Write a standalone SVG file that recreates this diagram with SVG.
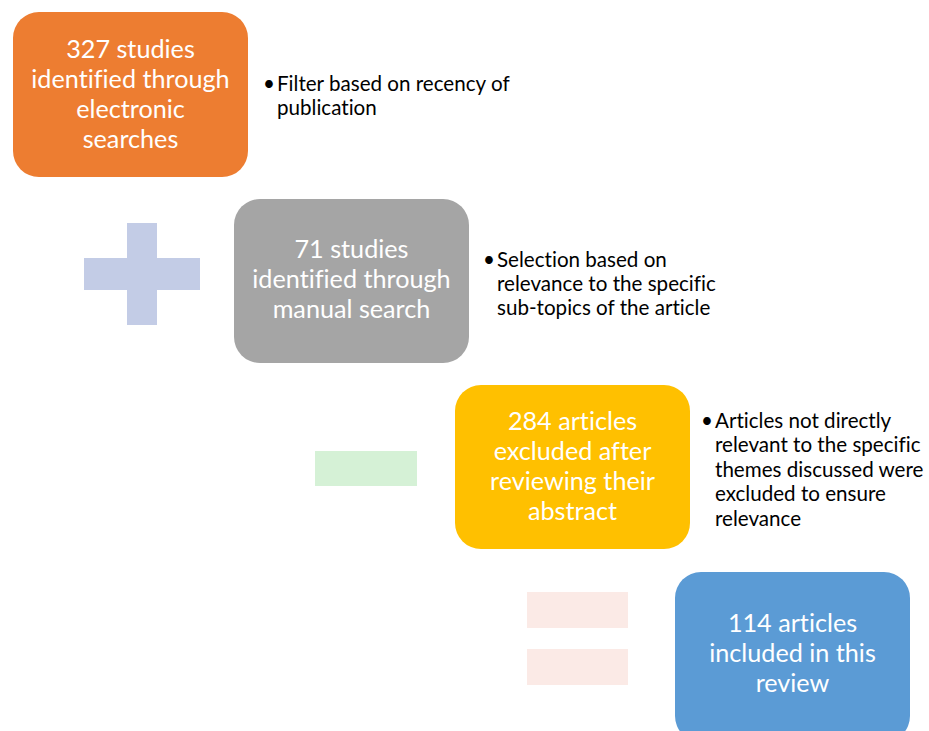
<svg xmlns="http://www.w3.org/2000/svg" width="929" height="731" viewBox="0 0 929 731">
<style>
.box{stroke:none}
.bt{font-family:Lato,"Open Sans",sans-serif;font-size:25.2px;fill:#ffffff;text-anchor:middle;font-variant-ligatures:none}
.nt{font-family:Lato,"Open Sans",sans-serif;font-size:20.6px;fill:#000000;font-variant-ligatures:none}
</style>
<rect width="929" height="731" fill="#ffffff"/>
<g id="plus"><rect x="127" y="223" width="30" height="102" fill="#C3CCE6"/><rect x="84" y="258" width="116" height="32" fill="#C3CCE6"/></g>
<g id="minus"><rect x="315" y="451" width="102" height="35" fill="#D5F1D6"/></g>
<g id="equals"><rect x="527" y="592" width="101" height="36" fill="#FBEAE6"/><rect x="527" y="649" width="101" height="36" fill="#FBEAE6"/></g>
<g id="connectors"></g>
<g id="n1">
<rect class="box" x="13" y="12" width="235" height="165" rx="26" fill="#ED7D31"/>
<text class="bt" x="130.5" y="58">327 studies</text>
<text class="bt" x="130.5" y="88">identified through</text>
<text class="bt" x="130.5" y="118">electronic</text>
<text class="bt" x="130.5" y="148">searches</text>
</g>
<g id="t1">
<text class="nt" x="263" y="91">•</text>
<text class="nt" x="277" y="91">Filter based on recency of</text>
<text class="nt" x="277" y="115">publication</text>
</g>
<g id="n2">
<rect class="box" x="234" y="199" width="235" height="164" rx="26" fill="#A5A5A5"/>
<text class="bt" x="351.5" y="258">71 studies</text>
<text class="bt" x="351.5" y="288">identified through</text>
<text class="bt" x="351.5" y="318">manual search</text>
</g>
<g id="t2">
<text class="nt" x="483" y="267">•</text>
<text class="nt" x="497" y="267">Selection based on</text>
<text class="nt" x="497" y="291">relevance to the specific</text>
<text class="nt" x="497" y="315">sub-topics of the article</text>
</g>
<g id="n3">
<rect class="box" x="455" y="385" width="235" height="164" rx="26" fill="#FFC000"/>
<text class="bt" x="572.5" y="430">284 articles</text>
<text class="bt" x="572.5" y="460">excluded after</text>
<text class="bt" x="572.5" y="490">reviewing their</text>
<text class="bt" x="572.5" y="520">abstract</text>
</g>
<g id="t3">
<text class="nt" x="701" y="428">•</text>
<text class="nt" x="715" y="428">Articles not directly</text>
<text class="nt" x="715" y="452">relevant to the specific</text>
<text class="nt" x="715" y="477">themes discussed were</text>
<text class="nt" x="715" y="501">excluded to ensure</text>
<text class="nt" x="715" y="526">relevance</text>
</g>
<g id="n4">
<rect class="box" x="675" y="572" width="235" height="170" rx="26" fill="#5B9BD5"/>
<text class="bt" x="792.5" y="632">114 articles</text>
<text class="bt" x="792.5" y="662">included in this</text>
<text class="bt" x="792.5" y="692">review</text>
</g>
</svg>
